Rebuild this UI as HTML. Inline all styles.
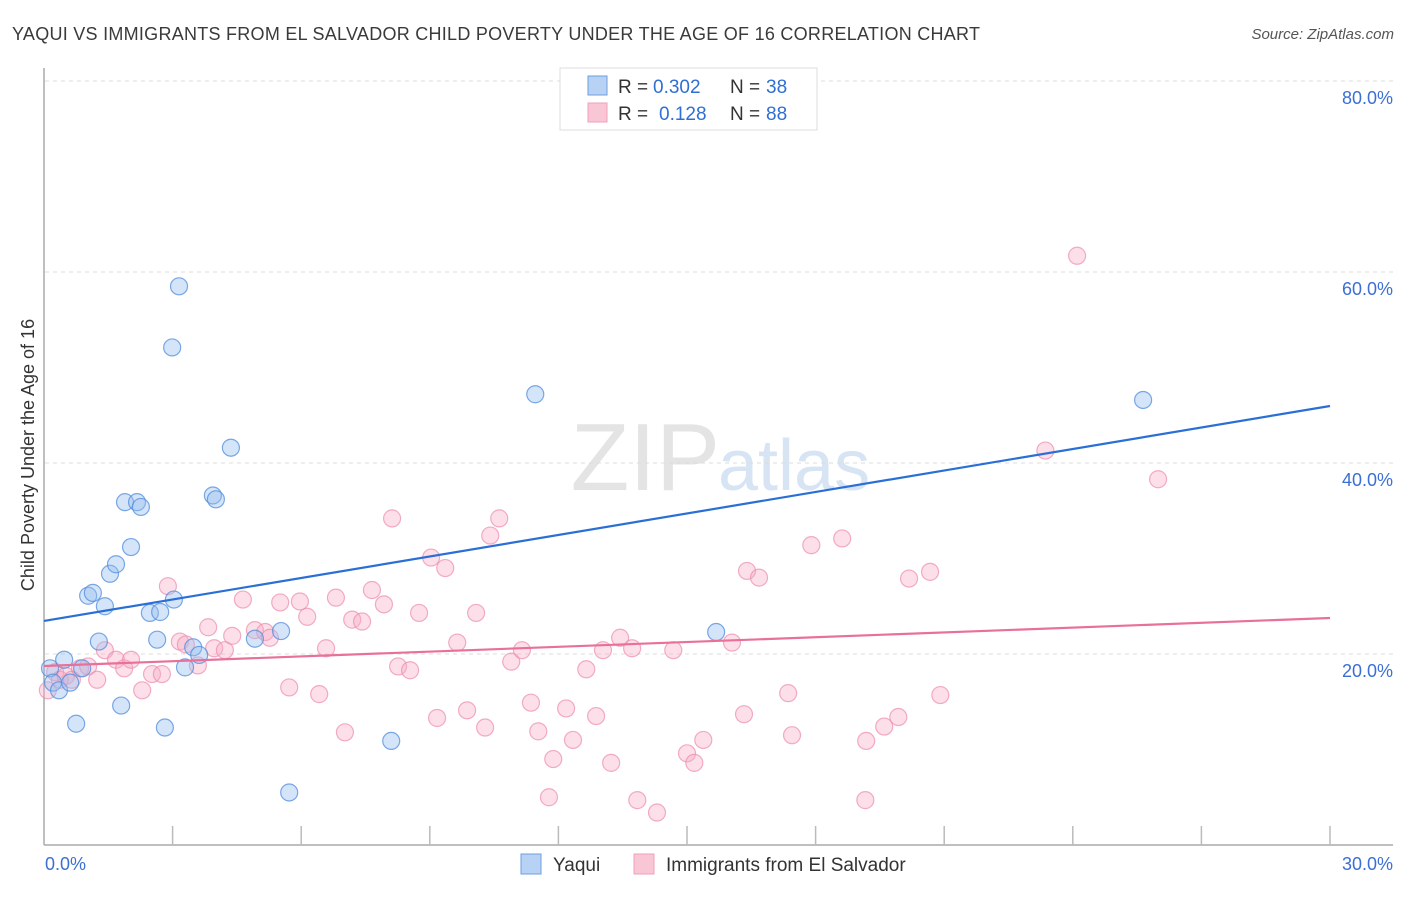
<!DOCTYPE html>
<html><head><meta charset="utf-8"><style>
body{margin:0;background:#fff;font-family:"Liberation Sans",sans-serif}
svg text{font-family:"Liberation Sans",sans-serif}
</style></head><body>
<svg id="c" width="1406" height="892" xmlns="http://www.w3.org/2000/svg">
<text x="12" y="40" font-size="18" fill="#3a3a3a" textLength="968" lengthAdjust="spacing">YAQUI VS IMMIGRANTS FROM EL SALVADOR CHILD POVERTY UNDER THE AGE OF 16 CORRELATION CHART</text>
<text x="1394" y="39" font-size="15" fill="#555" font-style="italic" text-anchor="end">Source: ZipAtlas.com</text>
<text x="720" y="490" font-size="96" fill="#e4e4e4" text-anchor="end" font-family="Liberation Serif">ZIP</text>
<text x="718" y="490" font-size="72" fill="#d6e4f4">atlas</text>
<g id="grid"></g>
<g id="axes"></g>
<g id="pts"></g>
<g id="lines"></g>
<text transform="translate(34,455) rotate(-90)" font-size="18" fill="#333" text-anchor="middle">Child Poverty Under the Age of 16</text>
<g>
<rect x="560" y="68" width="257" height="62" fill="#fff" stroke="#ddd"/>
<rect x="588" y="76" width="19" height="19" fill="#b7d2f4" stroke="#6d9ee0"/>
<text x="618" y="93" font-size="19" fill="#333">R =</text>
<text x="653" y="93" font-size="19" fill="#2f6fd4">0.302</text>
<text x="730" y="93" font-size="19" fill="#333">N =</text>
<text x="766" y="93" font-size="19" fill="#2f6fd4">38</text>
<rect x="588" y="103" width="19" height="19" fill="#f9c6d6" stroke="#eea0b8"/>
<text x="618" y="120" font-size="19" fill="#333">R =</text>
<text x="659" y="120" font-size="19" fill="#2f6fd4">0.128</text>
<text x="730" y="120" font-size="19" fill="#333">N =</text>
<text x="766" y="120" font-size="19" fill="#2f6fd4">88</text>
</g>
<g>
<rect x="521" y="854" width="20" height="20" fill="#b7d2f4" stroke="#6d9ee0"/>
<text x="553" y="871" font-size="19" fill="#333">Yaqui</text>
<rect x="634" y="854" width="20" height="20" fill="#f9c6d6" stroke="#eea0b8"/>
<text x="666" y="871" font-size="19" fill="#333">Immigrants from El Salvador</text>
</g>
</svg>
<script>
const yaquiX=[0.14,0.21,0.35,0.47,0.61,0.75,0.89,1.03,1.14,1.28,1.42,1.54,1.68,1.80,1.89,2.03,2.17,2.26,2.47,2.64,2.71,2.82,2.99,3.03,3.15,3.29,3.48,3.62,3.94,4.01,4.36,4.92,5.53,5.72,8.10,11.46,15.68,25.64];
const yaquiY=[18.5,17.0,16.2,19.4,17.0,12.7,18.5,26.1,26.4,21.3,25.0,28.4,29.4,14.6,35.9,31.2,35.9,35.4,24.3,21.5,24.4,12.3,52.1,25.7,58.5,18.6,20.7,19.9,36.6,36.2,41.6,21.6,22.4,5.5,10.9,47.2,22.3,46.6];
const salvX=[0.09,0.26,0.37,0.51,0.65,0.84,1.03,1.24,1.42,1.68,1.87,2.03,2.29,2.52,2.75,2.89,3.17,3.31,3.59,3.83,3.97,4.22,4.39,4.64,4.92,5.16,5.27,5.51,5.72,5.97,6.14,6.42,6.58,6.81,7.02,7.19,7.42,7.65,7.93,8.12,8.26,8.54,8.75,9.03,9.17,9.36,9.64,9.87,10.08,10.29,10.41,10.62,10.90,11.15,11.36,11.53,11.78,11.88,12.18,12.34,12.65,12.88,13.04,13.23,13.44,13.72,13.84,14.30,14.68,15.00,15.17,15.38,16.05,16.33,16.40,16.68,17.36,17.45,17.90,18.62,19.18,19.16,19.60,19.93,20.18,20.67,20.91,23.36,24.10,25.99];
const salvY=[16.2,18.1,17.3,17.7,17.3,18.5,18.7,17.3,20.4,19.4,18.5,19.4,16.2,17.9,17.9,27.1,21.3,21.0,18.8,22.8,20.6,20.4,21.9,25.7,22.5,22.3,21.7,25.4,16.5,25.5,23.9,15.8,20.6,25.9,11.8,23.6,23.4,26.7,25.2,34.2,18.7,18.3,24.3,30.1,13.3,29.0,21.2,14.1,24.3,12.3,32.4,34.2,19.2,20.4,14.9,11.9,5.0,9.0,14.3,11.0,18.4,13.5,20.4,8.6,21.7,20.6,4.7,3.4,20.4,9.6,8.6,11.0,21.2,13.7,28.7,28.0,15.9,11.5,31.4,32.1,10.9,4.7,12.4,13.4,27.9,28.6,15.7,41.3,61.7,38.3];
const yaquiTrend=[23.46,45.97];
const salvTrend=[18.74,23.77];
const yTicks=[20,40,60,80];
const yTickLabels=["20.0%","40.0%","60.0%","80.0%"];
const xTicks=[0,3,6,9,12,15,18,21,24,27,30];
const NS="http://www.w3.org/2000/svg";
const X=v=>44+v/30*1286, Y=v=>845-v*9.55;
function mk(tag,attrs,parent){const e=document.createElementNS(NS,tag);for(const k in attrs)e.setAttribute(k,attrs[k]);parent.appendChild(e);return e;}
const grid=document.getElementById('grid'),axes=document.getElementById('axes'),pts=document.getElementById('pts'),lines=document.getElementById('lines');
yTicks.forEach((t,i)=>{
 const l=mk('line',{x1:45,x2:1393,y1:Y(t),y2:Y(t),stroke:'#dcdcdc','stroke-dasharray':'4,4'},grid);
 
 
 const tx=mk('text',{x:1393,y:Y(t)+23,'font-size':18,fill:'#3b6fd4','text-anchor':'end'},axes);
 tx.textContent=yTickLabels[i];
 
 
});
mk('line',{x1:44,x2:44,y1:68,y2:845,stroke:'#aaa','stroke-width':1.5},axes);
const xa=mk('line',{x1:44,x2:1393,y1:845,y2:845,stroke:'#aaa','stroke-width':1.5},axes);


xTicks.forEach(t=>{if(t>0){const k=mk('line',{x1:X(t),x2:X(t),y1:826,y2:845,stroke:'#bbb','stroke-width':1.5},axes);
 
 }});
const x0=mk('text',{x:45,y:870,'font-size':18,fill:'#3b6fd4'},axes);x0.textContent='0.0%';


const x1=mk('text',{x:1393,y:870,'font-size':18,fill:'#3b6fd4','text-anchor':'end'},axes);x1.textContent='30.0%';


salvX.forEach((v,i)=>{const c=mk('circle',{cx:X(v),cy:Y(salvY[i]),r:8.5,fill:'rgba(246,170,196,0.38)',stroke:'rgba(236,140,172,0.7)','stroke-width':1.2},pts);
 
 });
yaquiX.forEach((v,i)=>{const c=mk('circle',{cx:X(v),cy:Y(yaquiY[i]),r:8.5,fill:'rgba(150,190,240,0.4)',stroke:'rgba(80,140,220,0.75)','stroke-width':1.2},pts);
 
 });
const lb=mk('line',{x1:X(0),y1:Y(yaquiTrend[0]),x2:X(30),y2:Y(yaquiTrend[1]),stroke:'#2a6fd6','stroke-width':2.2},lines);


const lp=mk('line',{x1:X(0),y1:Y(salvTrend[0]),x2:X(30),y2:Y(salvTrend[1]),stroke:'#e8709a','stroke-width':2.2},lines);


</script>
</body></html>
